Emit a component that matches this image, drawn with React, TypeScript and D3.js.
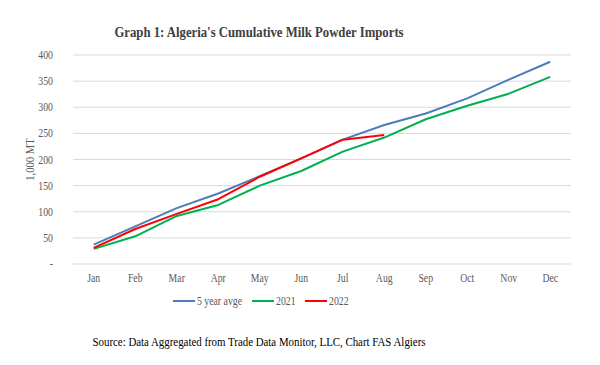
import React, { useEffect, useRef } from 'react';
import * as d3 from 'd3';

// chart data
const months = ['Jan', 'Feb', 'Mar', 'Apr', 'May', 'Jun', 'Jul', 'Aug', 'Sep', 'Oct', 'Nov', 'Dec'];
const avg5yr = [37, 72, 107, 135, 168, 202, 238, 266, 288, 317, 353, 387];
const y2021 = [29, 53, 92, 113, 150, 178, 215, 242, 277, 303, 326, 358];
const y2022 = [31, 67, 96, 124, 167, 202, 238, 247];
const yTicks = [0, 50, 100, 150, 200, 250, 300, 350, 400];

const seriesList = [
  { name: '5 year avge', values: avg5yr, color: '#4a7ebb' },
  { name: '2021', values: y2021, color: '#00b050' },
  { name: '2022', values: y2022, color: '#ff0000' },
];

const W = 600;
const H = 365;
const margin = { top: 55, left: 73, right: 29, bottom: 101 };
const FONT = '"Liberation Serif", "Times New Roman", serif';
// the reference text looks squeezed sideways
const SX = 0.85;

export default function App() {
  const svgRef = useRef<SVGSVGElement>(null);

  useEffect(() => {
    const root = d3.select(svgRef.current);
    root.selectAll('*').remove();

    const width = W - margin.left - margin.right;
    const height = H - margin.top - margin.bottom;

    root.append('rect').attr('width', W).attr('height', H).attr('fill', '#fff');

    // squeezed text helper
    const label = (parent: any, px: number, py: number, txt: string, size: number, anchor: string, fill: string, bold = false) => {
      parent.append('g')
        .attr('transform', `translate(${px},${py}) scale(${SX},1)`)
        .append('text')
        .attr('text-anchor', anchor)
        .attr('font-family', FONT)
        .attr('font-weight', bold ? 'bold' : 'normal')
        .attr('font-size', `${size}px`)
        .attr('fill', fill)
        .text(txt);
    };

    // title
    label(root, 259, 37, "Graph 1: Algeria's Cumulative Milk Powder Imports", 15, 'middle', '#404040', true);

    const g = root.append('g').attr('transform', `translate(${margin.left},${margin.top})`);

    const x = d3.scaleBand().domain(months).range([0, width]);
    const y = d3.scaleLinear().domain([0, 400]).range([height, 0]);

    // gridlines
    g.selectAll('line.grid')
      .data(yTicks)
      .enter()
      .append('line')
      .attr('class', 'grid')
      .attr('x1', 0).attr('x2', width)
      .attr('y1', (d) => y(d)).attr('y2', (d) => y(d))
      .attr('stroke', '#d9d9d9')
      .attr('stroke-width', 1);

    // y labels
    yTicks.forEach((d) => {
      label(g, -20, y(d) + 4, d === 0 ? '-' : String(d), 11.5, 'end', '#595959');
    });

    // x labels
    months.forEach((m) => {
      label(g, x(m)! + x.bandwidth() / 2, height + 18, m, 11.5, 'middle', '#595959');
    });

    // y axis title
    root.append('g')
      .attr('transform', `translate(34,${margin.top + height / 2}) rotate(-90) scale(${SX},1)`)
      .append('text')
      .attr('text-anchor', 'middle')
      .attr('font-family', FONT)
      .attr('font-size', '12.5px')
      .attr('fill', '#595959')
      .text('1,000 MT');

    const line = d3.line<number>()
      .x((d, i) => x(months[i])! + x.bandwidth() / 2)
      .y((d) => y(d));

    seriesList.forEach((s) => {
      g.append('path')
        .datum(s.values)
        .attr('d', line)
        .attr('fill', 'none')
        .attr('stroke', s.color)
        .attr('stroke-width', 2)
        .attr('stroke-linejoin', 'round');
    });

    // legend
    const legendX = [173, 252, 305];
    const legend = root.append('g');
    seriesList.forEach((s, i) => {
      legend.append('line')
        .attr('x1', legendX[i]).attr('x2', legendX[i] + 22)
        .attr('y1', 301).attr('y2', 301)
        .attr('stroke', s.color)
        .attr('stroke-width', 2);
      label(legend, legendX[i] + 24, 305, s.name, 11.5, 'start', '#595959');
    });

    // source note
    label(root, 259, 346, 'Source: Data Aggregated from Trade Data Monitor, LLC, Chart FAS Algiers', 12.8, 'middle', '#000');
  }, []);

  return (
    <svg ref={svgRef} width={W} height={H} style={{ display: 'block', position: 'absolute', left: 0, top: 0 }} />
  );
}
